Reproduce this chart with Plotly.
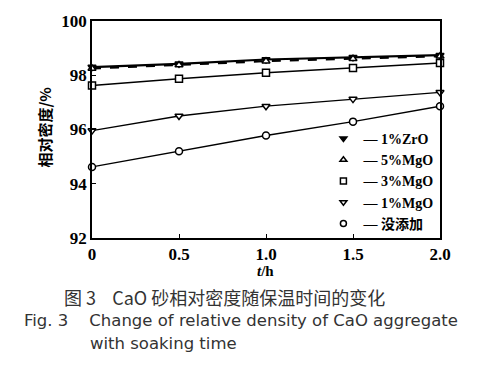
import plotly.graph_objects as go

time_h = [0, 0.5, 1.0, 1.5, 2.0]
zro_1 = [98.30, 98.42, 98.58, 98.66, 98.74]
mgo_5 = [98.25, 98.38, 98.52, 98.61, 98.70]
mgo_3 = [97.62, 97.87, 98.09, 98.27, 98.45]
mgo_1 = [95.96, 96.50, 96.86, 97.12, 97.37]
none_add = [94.62, 95.20, 95.78, 96.29, 96.86]

names = ["1%ZrO", "5%MgO", "3%MgO", "1%MgO", "没添加"]
series = [zro_1, mgo_5, mgo_3, mgo_1, none_add]
symbols = ["triangle-down", "triangle-up", "square", "triangle-down", "circle"]
fills = ["black", "white", "white", "white", "white"]
dashes = ["solid", "dash", "solid", "solid", "solid"]
widths = [2.2, 2.2, 1.4, 1.4, 1.4]

x_ticks = [0, 0.5, 1.0, 1.5, 2.0]
x_tick_labels = ["0", "0.5", "1.0", "1.5", "2.0"]
y_ticks = [92, 94, 96, 98, 100]

fig = go.Figure()
for name, ys, sym, fc, dash, w in zip(names, series, symbols, fills, dashes, widths):
    fig.add_trace(go.Scatter(
        x=time_h, y=ys, mode="lines+markers", showlegend=False, cliponaxis=False,
        line=dict(color="black", width=w, dash=dash),
        marker=dict(symbol=sym, size=7, color=fc, line=dict(color="black", width=1.5)),
    ))
for name, sym, fc in zip(names, symbols, fills):
    fig.add_trace(go.Scatter(
        x=[None], y=[None], mode="markers", name="— " + name,
        marker=dict(symbol=sym, size=6, color=fc, line=dict(color="black", width=1.5)),
    ))

serif = "Liberation Serif"
fig.update_layout(
    width=492, height=377,
    margin=dict(l=92, r=52, t=16, b=139),
    paper_bgcolor="white", plot_bgcolor="white",
    font=dict(family=serif, color="black"),
    showlegend=True,
    legend=dict(x=0.665, y=0.53, xanchor="left", yanchor="top",
                bgcolor="rgba(0,0,0,0)", borderwidth=0,
                font=dict(family="Liberation Serif, Noto Sans CJK SC", size=14, color="black", weight="bold"),
                tracegroupgap=0, itemwidth=30),
    xaxis=dict(range=[0, 2.0], tickvals=x_ticks, ticktext=x_tick_labels,
               showline=True, linecolor="black", linewidth=1.5, mirror=True,
               ticks="inside", ticklen=4, tickcolor="black", showgrid=False, zeroline=False,
               tickfont=dict(family=serif, size=17, weight="bold")),
    yaxis=dict(range=[92, 100], tickvals=y_ticks,
               showline=True, linecolor="black", linewidth=1.5, mirror=True,
               ticks="inside", ticklen=4, tickcolor="black", showgrid=False, zeroline=False,
               tickfont=dict(family=serif, size=17, weight="bold")),
)

def px(x):
    return (x - 92) / 348

def py(y):
    return (238 - y) / 222

fig.add_annotation(text="<i>t</i>/h", xref="paper", yref="paper", x=px(265), y=py(272),
                   xanchor="center", yanchor="middle",
                   showarrow=False, font=dict(family=serif, size=15, weight="bold"))
fig.add_annotation(text="相对密度/%", xref="paper", yref="paper", x=px(45), y=py(125),
                   xanchor="center", yanchor="middle",
                   textangle=-90, showarrow=False,
                   font=dict(family="Noto Sans CJK SC", size=15, weight="bold"))

cap_cn = "Noto Sans CJK SC"
cap_en = "DejaVu Sans"
fig.add_annotation(text="图 3    CaO 砂相对密度随保温时间的变化", xref="paper", yref="paper",
                   x=px(62), y=py(298), yanchor="middle", xanchor="left",
                   showarrow=False, font=dict(family=cap_cn, size=18, color="#333"))
fig.add_annotation(text="Fig. 3    Change of relative density of CaO aggregate", xref="paper", yref="paper",
                   x=px(22), y=py(322), yanchor="middle", xanchor="left",
                   showarrow=False, font=dict(family=cap_en, size=16.5, color="#333"))
fig.add_annotation(text="with soaking time", xref="paper", yref="paper",
                   x=px(88), y=py(346), yanchor="middle", xanchor="left",
                   showarrow=False, font=dict(family=cap_en, size=16.5, color="#333"))

fig.write_html("out.html", config={"displayModeBar": False},
               post_script="document.body.style.margin='0';document.body.style.overflow='hidden';")
